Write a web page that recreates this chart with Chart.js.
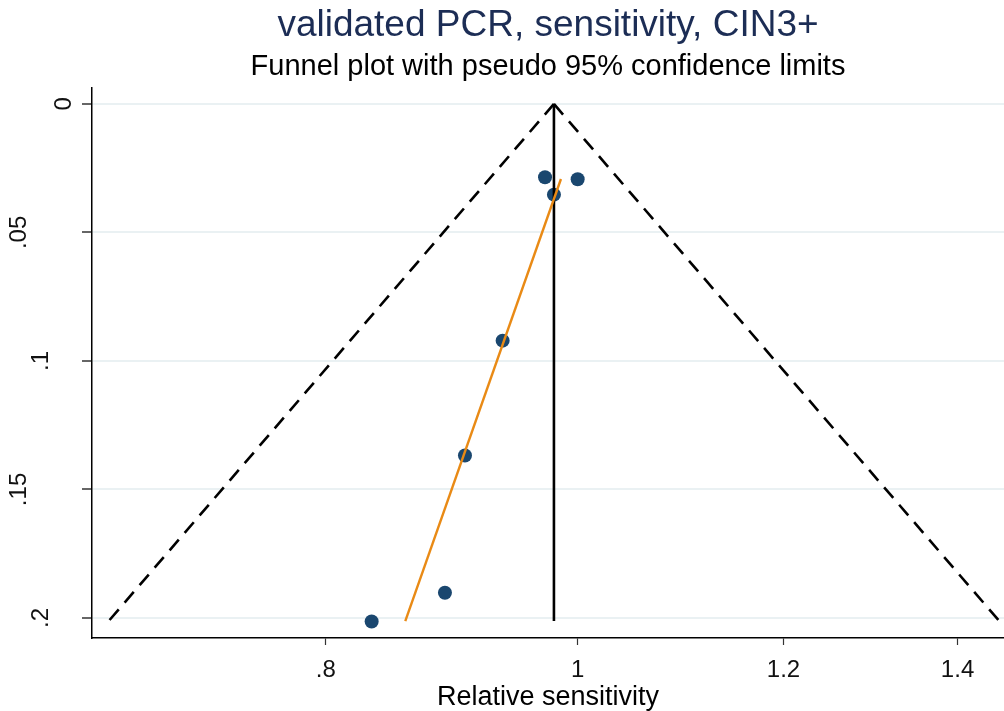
<!DOCTYPE html>
<html>
<head>
<meta charset="utf-8">
<title>validated PCR, sensitivity, CIN3+</title>
<script src="https://cdn.jsdelivr.net/npm/chart.js@4/dist/chart.umd.min.js"></script>
<style>
    html, body { margin: 0; padding: 0; background: #ffffff; }
    #wrap { width: 1004px; height: 711px; }
</style>
</head>
<body>
<div id="wrap"><canvas id="funnel" width="1004" height="711"></canvas></div>
<script>
// Estudios: sensibilidad relativa y su error estándar
const studyEffect = [0.9715, 1.0, 0.9792, 0.9357, 0.905, 0.8891, 0.8332];
const studySE = [0.0285, 0.0293, 0.0353, 0.0921, 0.1368, 0.1902, 0.2014];

// Estimación combinada y límites del embudo (pseudo IC 95%)
const pooledEffect = [0.9792, 0.9792];
const pooledSE = [0, 0.2012];
const funnelLower = [0.9792, 0.6601];
const funnelUpper = [0.9792, 1.4527];
const funnelSE = [0, 0.2012];

// Recta de regresión (Egger)
const eggerEffect = [0.9853, 0.8584];
const eggerSE = [0.0292, 0.2012];

// Marcas de los ejes
const xTicks = [0.8, 1, 1.2, 1.4];
const xTickLabels = ['.8', '1', '1.2', '1.4'];
const yTicks = [0, 0.05, 0.1, 0.15, 0.2];
const yTickLabels = ['0', '.05', '.1', '.15', '.2'];

const FONT = "'Liberation Sans', Arial, sans-serif";

function pairs(xs, ys) {
    return xs.map((x, i) => ({ x: x, y: ys[i] }));
}

const ctx = document.getElementById('funnel').getContext('2d');

new Chart(ctx, {
    type: 'scatter',
    data: {
        datasets: [
            {
                label: 'Egger',
                data: pairs(eggerEffect, eggerSE),
                showLine: true,
                borderColor: '#e98a15',
                borderWidth: 2.4,
                pointRadius: 0,
                order: 1
            },
            {
                label: 'Estimación combinada',
                data: pairs(pooledEffect, pooledSE),
                showLine: true,
                borderColor: '#000000',
                borderWidth: 2.6,
                pointRadius: 0,
                order: 2
            },
            {
                label: 'Límite inferior',
                data: pairs(funnelLower, funnelSE),
                showLine: true,
                borderColor: '#000000',
                borderWidth: 2.6,
                borderDash: [14, 9],
                pointRadius: 0,
                order: 3
            },
            {
                label: 'Límite superior',
                data: pairs(funnelUpper, funnelSE),
                showLine: true,
                borderColor: '#000000',
                borderWidth: 2.6,
                borderDash: [14, 9],
                pointRadius: 0,
                order: 3
            },
            {
                label: 'Estudios',
                data: pairs(studyEffect, studySE),
                pointRadius: 7,
                pointBackgroundColor: '#1a476f',
                pointBorderColor: '#1a476f',
                pointBorderWidth: 0,
                order: 5
            }
        ]
    },
    options: {
        responsive: false,
        animation: false,
        layout: { padding: 0, autoPadding: false },
        plugins: {
            legend: { display: false },
            tooltip: { enabled: false },
            title: {
                display: true,
                fullSize: false,
                text: 'validated PCR, sensitivity, CIN3+',
                color: '#1c2d55',
                font: { family: FONT, size: 37, weight: 'normal', lineHeight: 1 },
                padding: { top: 7, bottom: 0 }
            },
            subtitle: {
                display: true,
                fullSize: false,
                text: 'Funnel plot with pseudo 95% confidence limits',
                color: '#000000',
                font: { family: FONT, size: 29, weight: 'normal', lineHeight: 1 },
                padding: { top: 8.5, bottom: 6.5 }
            }
        },
        scales: {
            x: {
                type: 'logarithmic',
                position: 'bottom',
                min: 0.6504,
                max: 1.4588,
                afterBuildTicks: function(scale) {
                    scale.ticks = xTicks.map(v => ({ value: v }));
                },
                afterFit: function(scale) {
                    scale.height = 73;
                },
                ticks: {
                    autoSkip: false,
                    maxRotation: 0,
                    padding: 0,
                    color: '#111111',
                    font: { family: FONT, size: 24, lineHeight: '51px' },
                    callback: function(value, index) {
                        return xTickLabels[index];
                    }
                },
                grid: {
                    drawOnChartArea: false,
                    drawTicks: true,
                    tickLength: 7,
                    tickColor: '#333333',
                    tickWidth: 1.2
                },
                border: { color: '#000000', width: 1.5 },
                title: {
                    display: true,
                    text: 'Relative sensitivity',
                    color: '#000000',
                    font: { family: FONT, size: 27, lineHeight: 1 },
                    padding: { top: 0, bottom: 0 }
                }
            },
            y: {
                type: 'linear',
                reverse: true,
                min: -0.0062,
                max: 0.2078,
                afterBuildTicks: function(scale) {
                    scale.ticks = yTicks.map(v => ({ value: v }));
                },
                afterFit: function(scale) {
                    scale.width = 92;
                },
                ticks: {
                    autoSkip: false,
                    minRotation: 90,
                    maxRotation: 90,
                    crossAlign: 'center',
                    padding: 1,
                    color: '#111111',
                    font: { family: FONT, size: 24, lineHeight: '45px' },
                    // las etiquetas más largas se desplazan hacia la izquierda
                    callback: function(value, index) {
                        const text = yTickLabels[index];
                        const lines = [text];
                        for (let i = 1; i < text.length; i++) {
                            lines.push('');
                        }
                        return lines;
                    }
                },
                grid: {
                    color: 'rgb(234, 241, 243)',
                    lineWidth: 2,
                    drawTicks: true,
                    tickLength: 10,
                    tickColor: '#333333',
                    tickWidth: 1.5
                },
                border: { color: '#000000', width: 1.5 }
            }
        }
    }
});
</script>
</body>
</html>
